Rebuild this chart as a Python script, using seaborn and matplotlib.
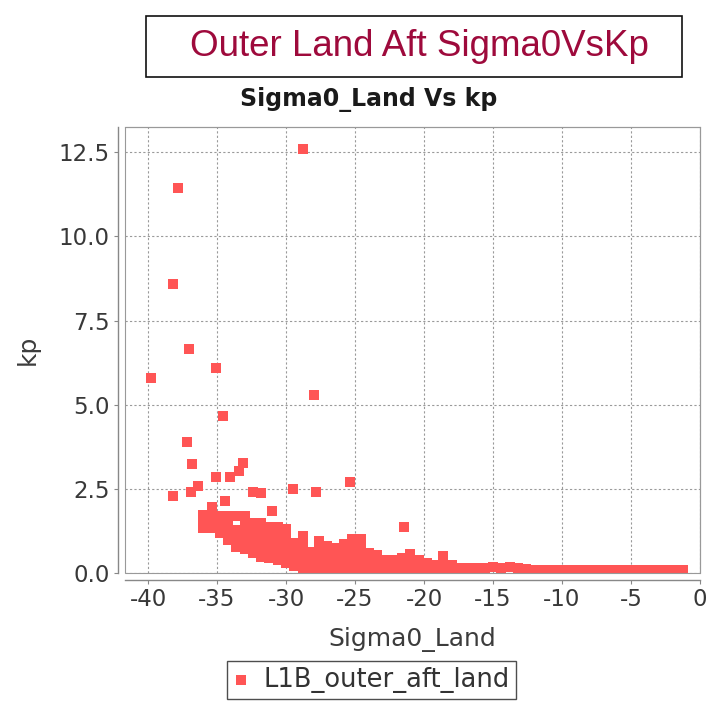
import matplotlib
matplotlib.use("Agg")
import pandas as pd
import matplotlib.pyplot as plt
import seaborn as sns
from matplotlib.patches import Rectangle

# isolated points (Sigma0_Land, kp)
outlier_x = [-28.8, -37.8, -38.2, -37.0, -39.8, -35.1, -28.0, -34.6, -37.2, -36.8,
             -33.1, -33.4, -34.05, -35.1, -36.4, -36.9, -38.2, -32.4, -31.8, -29.5,
             -27.8, -25.4, -21.45, -34.4, -31.0]
outlier_y = [12.6, 11.45, 8.6, 6.65, 5.8, 6.1, 5.28, 4.67, 3.9, 3.25,
             3.28, 3.02, 2.84, 2.84, 2.57, 2.4, 2.3, 2.4, 2.37, 2.5,
             2.4, 2.7, 1.38, 2.13, 1.85]

# dense band, read column by column
band_cols = [-36.0, -35.4, -34.8, -34.2, -33.6, -33.0, -32.4, -31.8, -31.2, -30.6,
             -30.0, -29.4, -28.8, -28.2, -27.6, -27.0, -26.4, -25.8, -25.2, -24.6,
             -24.0, -23.4, -22.8, -22.2, -21.6, -21.0, -20.4, -19.8, -19.2, -18.6, -18.0]
band_levels = [
    [1.35, 1.55, 1.72],
    [1.35, 1.6, 1.85, 1.97],
    [1.2, 1.45, 1.68],
    [0.99, 1.24, 1.48, 1.68],
    [0.78, 1.03, 1.28, 1.68],
    [0.7, 0.95, 1.2, 1.45, 1.68],
    [0.6, 0.85, 1.1, 1.35, 1.5],
    [0.48, 0.73, 0.98, 1.23, 1.48],
    [0.45, 0.7, 0.95, 1.2, 1.38],
    [0.39, 0.64, 0.89, 1.14, 1.38],
    [0.3, 0.55, 0.8, 1.05, 1.3],
    [0.2, 0.45, 0.7, 0.9],
    [0.15, 0.4, 0.65, 0.9, 1.1],
    [0.12, 0.37, 0.63],
    [0.1, 0.35, 0.6, 0.8, 0.96],
    [0.1, 0.35, 0.6, 0.8],
    [0.1, 0.35, 0.6, 0.75],
    [0.1, 0.35, 0.6, 0.87],
    [0.1, 0.35, 0.6, 0.85, 1.02],
    [0.1, 0.35, 0.6, 0.85, 1.0],
    [0.1, 0.35, 0.6],
    [0.1, 0.3, 0.54],
    [0.1, 0.39],
    [0.1, 0.39],
    [0.1, 0.3, 0.45],
    [0.1, 0.33, 0.57],
    [0.1, 0.39],
    [0.1, 0.3],
    [0.1, 0.24],
    [0.1, 0.3, 0.51],
    [0.1, 0.24],
]

# flat tail near zero
base_x = [-17.4, -16.8, -16.2, -15.6, -15.0, -14.4, -13.8, -13.2, -12.6, -12.0,
          -11.4, -10.8, -10.2, -9.6, -9.0, -8.4, -7.8, -7.2, -6.6, -6.0,
          -5.4, -4.8, -4.2, -3.6, -3.0, -2.4, -1.8, -1.2]
base_y = [0.15, 0.15, 0.15, 0.15, 0.18, 0.16, 0.17, 0.15, 0.12, 0.09,
          0.09, 0.09, 0.09, 0.09, 0.09, 0.09, 0.09, 0.09, 0.09, 0.09,
          0.09, 0.09, 0.09, 0.09, 0.09, 0.09, 0.09, 0.09]

x_ticks = [-40, -35, -30, -25, -20, -15, -10, -5, 0]
y_ticks = [0.0, 2.5, 5.0, 7.5, 10.0, 12.5]

xs, ys = list(outlier_x), list(outlier_y)
for cx, lv in zip(band_cols, band_levels):
    xs += [cx] * len(lv)
    ys += lv
xs += base_x
ys += base_y
df = pd.DataFrame({"Sigma0_Land": xs, "kp": ys})

sns.set_style("white")
plt.rcParams["font.family"] = ["DejaVu Sans"]
plt.rcParams["axes.unicode_minus"] = False

fig = plt.figure(figsize=(7.24, 7.02), dpi=100)
ax = fig.add_axes([125 / 724, 1 - 573 / 702, 575 / 724, 446 / 702])

sns.scatterplot(data=df, x="Sigma0_Land", y="kp", marker="s", s=52, color="#FF5555",
                linewidth=0, label="L1B_outer_aft_land", ax=ax, zorder=3)

ax.set_xlim(-41.67, 0)
ax.set_ylim(0, 13.25)
ax.set_xticks(x_ticks)
ax.set_xticklabels([str(t) for t in x_ticks])
ax.set_yticks(y_ticks)
ax.set_yticklabels([f"{t:.1f}" for t in y_ticks])
ax.tick_params(axis="both", labelsize=16.5, labelcolor="#383838", color="#888888",
               length=3, width=0.8, direction="out", pad=3)
ax.tick_params(left=True, bottom=True)

ax.grid(True, color="#9a9a9a", linewidth=0.8, linestyle=(0, (2, 2)))
ax.set_axisbelow(True)

for side in ["top", "right"]:
    ax.spines[side].set_color("#999999")
    ax.spines[side].set_linewidth(0.8)
for side in ["left", "bottom"]:
    ax.spines[side].set_position(("outward", 5))
    ax.spines[side].set_color("#888888")
    ax.spines[side].set_linewidth(1.0)
ax.add_patch(Rectangle((0, 0), 1, 1, transform=ax.transAxes, fill=False,
                       edgecolor="#999999", linewidth=0.8, zorder=4, clip_on=False))

ax.set_xlabel("Sigma0_Land", fontsize=18, color="#3c3c3c", va="top")
ax.xaxis.set_label_coords(0.5, (573 - 627) / 446)
ax.set_ylabel("kp", fontsize=18, color="#3c3c3c")
ax.yaxis.set_label_coords(-0.148, 0.5)

leg = ax.legend(loc="center", bbox_to_anchor=(371.5 / 724, 1 - 680 / 702),
                bbox_transform=fig.transFigure, frameon=True, fancybox=False,
                fontsize=18.5, handlelength=0.6, handletextpad=0.6, borderpad=0.25,
                borderaxespad=0)
leg.get_frame().set_edgecolor("#222222")
leg.get_frame().set_linewidth(1.0)
for t in leg.get_texts():
    t.set_color("#333333")

# header box and chart title
fig.add_artist(Rectangle((146 / 724, 1 - 77 / 702), 536 / 724, 61 / 702,
                         transform=fig.transFigure, fill=False,
                         edgecolor="#111111", linewidth=1.2))
fig.text(419 / 724, 1 - 47 / 702, "Outer Land Aft Sigma0VsKp", fontsize=26.5,
         family="Liberation Sans", color="#9E0A3C", ha="center", va="center")
fig.text(369 / 724, 1 - 100 / 702, "Sigma0_Land Vs kp", fontsize=17,
         fontweight="bold", color="#1a1a1a", ha="center", va="center")

fig.savefig("out.png", dpi=100, facecolor="white")
